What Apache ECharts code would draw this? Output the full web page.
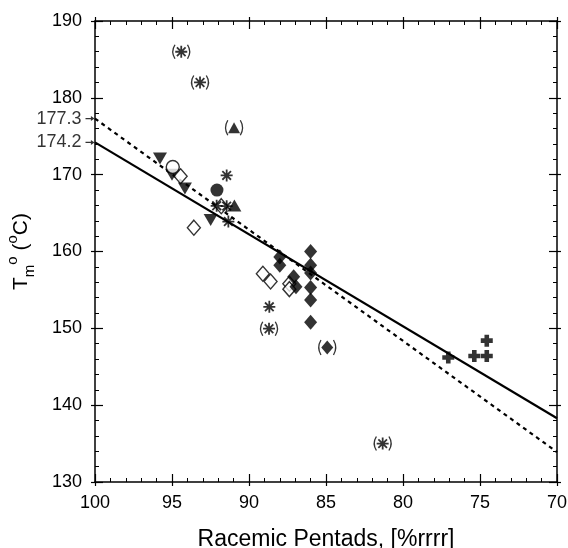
<!DOCTYPE html>
<html>
<head>
<meta charset="utf-8">
<script src="https://cdn.jsdelivr.net/npm/echarts@6/dist/echarts.min.js"></script>
<style>
html,body{margin:0;padding:0;background:#fff;}
#chart{width:568px;height:548px;}
</style>
</head>
<body>
<div id="chart"></div>
<script>
// ---- data (x = racemic pentads %rrrr, y = Tm0 in °C) ----
const xTitle = 'Racemic Pentads, [%rrrr]';
const specialTicks = [177.3, 174.2];
const fitSolid = [[100, 174.2], [70, 138.3]];
const fitDashed = [[100, 177.3], [70, 133.9]];
const asterisk = [[91.45, 169.9], [92.1, 165.95], [91.45, 165.9], [91.34, 163.9], [88.68, 152.8]];
const asteriskParen = [[94.4, 186.0], [93.18, 182.0], [88.7, 149.95], [81.32, 135.0]];
const triDown = [[95.78, 172.1], [95.0, 170.0], [94.16, 168.2], [92.49, 164.1]];
const triUp = [[90.95, 166.0]];
const triUpParen = [[90.97, 176.1]];
const circleOpen = [[94.95, 171.0]];
const circleFilled = [[92.08, 168.0]];
const diamondOpen = [[94.44, 169.8], [91.8, 165.9], [93.58, 163.1], [89.1, 157.1], [88.6, 156.1], [87.38, 155.8], [87.38, 155.1]];
const diamondFilled = [[86.0, 160.0], [88.0, 159.3], [88.0, 158.2], [86.0, 158.2], [86.0, 157.2], [87.1, 156.7], [86.95, 155.4], [86.0, 155.3], [86.0, 153.7], [86.0, 150.8]];
const diamondParen = [[84.92, 147.5]];
const crosses = [[77.06, 146.2], [75.37, 146.4], [74.56, 146.4], [74.56, 148.4]];

const FONT = 'Liberation Sans, Arial, Helvetica, sans-serif';
const BLACK = '#000';

const starPath = 'path://M0,-10L0,10M-10,0L10,0M-7.2,-7.2L7.2,7.2M-7.2,7.2L7.2,-7.2';
const parenPath = 'path://M-7,-10Q-12,0 -7,10M7,-10Q12,0 7,10';
const crossPath = 'path://M-2.3,-6L2.3,-6L2.3,-2.3L6,-2.3L6,2.3L2.3,2.3L2.3,6L-2.3,6L-2.3,2.3L-6,2.3L-6,-2.3L-2.3,-2.3Z';
const arrowPath = 'path://M0,-0.5L6,-0.5L6,-2.2L10,0L6,2.2L6,0.5L0,0.5Z';

function baseAxis(extra) {
  return Object.assign({
    type: 'value',
    splitLine: { show: false },
    axisLine: { show: true, onZero: false, lineStyle: { color: BLACK, width: 1.5 } },
    axisTick: { show: true, inside: true, length: 8, lineStyle: { color: BLACK, width: 1.2 } },
    minorTick: { show: true, splitNumber: 5, length: 4, lineStyle: { color: BLACK, width: 1 } },
    axisLabel: { show: false }
  }, extra);
}
function outerTickAxis(extra) {
  return Object.assign({
    type: 'value',
    splitLine: { show: false },
    axisLine: { show: false, onZero: false },
    axisTick: { show: true, inside: false, length: 4, lineStyle: { color: BLACK, width: 1.2 } },
    minorTick: { show: false },
    axisLabel: { show: false }
  }, extra);
}
const xCommon = { min: 70, max: 100, interval: 5, inverse: true };
const yCommon = { min: 130, max: 190, interval: 10 };

function scatter(data, opts) {
  return Object.assign({
    type: 'scatter',
    data: data,
    xAxisIndex: 0, yAxisIndex: 0,
    clip: false,
    z: 5
  }, opts);
}

const option = {
  animation: false,
  backgroundColor: '#fff',
  grid: { left: 95, right: 11, top: 21, bottom: 66, containLabel: false, outerBoundsMode: 'none' },
  xAxis: [
    baseAxis(Object.assign({}, xCommon, {
      position: 'bottom',
      axisLabel: { show: true, fontSize: 18, color: BLACK, margin: 12, fontFamily: FONT },
      name: xTitle, nameLocation: 'middle', nameGap: 46,
      nameTextStyle: { fontSize: 23, color: BLACK, fontFamily: FONT }
    })),
    baseAxis(Object.assign({}, xCommon, { position: 'top' })),
    outerTickAxis(Object.assign({}, xCommon, { position: 'bottom' })),
    outerTickAxis(Object.assign({}, xCommon, { position: 'top' }))
  ],
  yAxis: [
    baseAxis(Object.assign({}, yCommon, {
      position: 'left',
      axisLabel: { show: true, fontSize: 18, color: BLACK, margin: 13, fontFamily: FONT },
      name: '{t|T}{s|m}{p|o}{t| (}{p|o}{t|C)}',
      nameLocation: 'middle', nameGap: 58,
      nameTextStyle: {
        color: BLACK, fontFamily: FONT,
        rich: {
          t: { fontSize: 21, lineHeight: 32, verticalAlign: 'middle', color: BLACK, fontFamily: FONT },
          s: { fontSize: 15, lineHeight: 15, verticalAlign: 'bottom', color: BLACK, fontFamily: FONT },
          p: { fontSize: 15, lineHeight: 15, verticalAlign: 'top', color: BLACK, fontFamily: FONT }
        }
      }
    })),
    baseAxis(Object.assign({}, yCommon, { position: 'right' })),
    outerTickAxis(Object.assign({}, yCommon, { position: 'left' })),
    outerTickAxis(Object.assign({}, yCommon, { position: 'right' }))
  ],
  series: [
    {
      type: 'line', data: fitSolid, xAxisIndex: 0, yAxisIndex: 0,
      symbol: 'none', lineStyle: { color: BLACK, width: 2.2 }, z: 3
    },
    {
      type: 'line', data: fitDashed, xAxisIndex: 0, yAxisIndex: 0,
      symbol: 'none', lineStyle: { color: BLACK, width: 2.2, type: [4, 4] }, z: 3
    },
    // special tick labels on the left axis
    scatter(specialTicks.map(v => [100, v]), {
      symbol: arrowPath, symbolSize: [9, 5], symbolOffset: [-5, 0],
      itemStyle: { color: BLACK },
      label: {
        show: true, position: 'left', distance: 4,
        formatter: p => String(p.value[1]),
        fontSize: 18, color: BLACK, fontFamily: FONT
      }
    }),
    scatter(diamondOpen, { symbol: 'diamond', symbolSize: [13, 15], itemStyle: { color: '#fff', borderColor: BLACK, borderWidth: 1.4 } }),
    scatter(diamondFilled, { symbol: 'diamond', symbolSize: [13, 15], itemStyle: { color: BLACK } }),
    scatter(diamondParen, { symbol: 'diamond', symbolSize: [12, 14], itemStyle: { color: BLACK } }),
    scatter(diamondParen, { symbol: parenPath, symbolSize: [17, 15], itemStyle: { color: 'none', borderColor: BLACK, borderWidth: 1.2 } }),
    scatter(triDown, { symbol: 'triangle', symbolRotate: 180, symbolSize: [14, 12], itemStyle: { color: BLACK } }),
    scatter(circleOpen, { symbol: 'circle', symbolSize: 13, itemStyle: { color: '#fff', borderColor: BLACK, borderWidth: 1.4 } }),
    scatter(circleFilled, { symbol: 'circle', symbolSize: 13, itemStyle: { color: BLACK } }),
    scatter(triUp, { symbol: 'triangle', symbolSize: [14, 12], itemStyle: { color: BLACK } }),
    scatter(triUpParen, { symbol: 'triangle', symbolSize: [12, 11], itemStyle: { color: BLACK } }),
    scatter(triUpParen, { symbol: parenPath, symbolSize: [17, 15], itemStyle: { color: 'none', borderColor: BLACK, borderWidth: 1.2 } }),
    scatter(asterisk, { symbol: starPath, symbolSize: 12, itemStyle: { color: 'none', borderColor: BLACK, borderWidth: 1.8 } }),
    scatter(asteriskParen, { symbol: starPath, symbolSize: 12, itemStyle: { color: 'none', borderColor: BLACK, borderWidth: 1.8 } }),
    scatter(asteriskParen, { symbol: parenPath, symbolSize: [17, 14], itemStyle: { color: 'none', borderColor: BLACK, borderWidth: 1.2 } }),
    scatter(crosses, { symbol: crossPath, symbolSize: 12, itemStyle: { color: BLACK } })
  ]
};

const chart = echarts.init(document.getElementById('chart'), null, { renderer: 'canvas' });
chart.setOption(option);
</script>
</body>
</html>
